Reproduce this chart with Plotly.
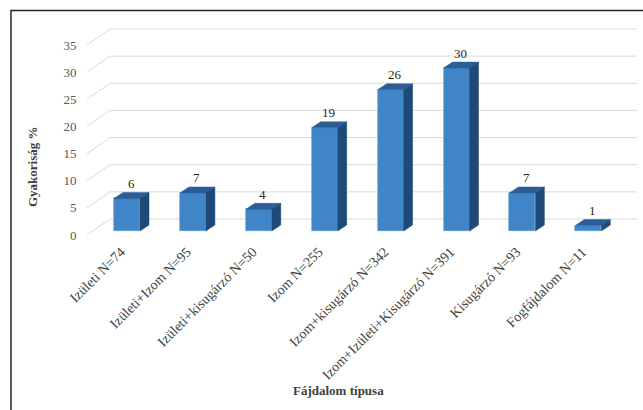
import plotly.graph_objects as go

# Pain type categories and frequency (%)
categories = [
    "Izületi N=74",
    "Izületi+Izom N=95",
    "Izületi+kisugárzó N=50",
    "Izom N=255",
    "Izom+kisugárzó N=342",
    "Izom+Izületi+Kisugárzó N=391",
    "Kisugárzó N=93",
    "Fogfájdalom N=11",
]
values = [6, 7, 4, 19, 26, 30, 7, 1]
y_ticks = [0, 5, 10, 15, 20, 25, 30, 35]

# Plot area in pixels and scale factors used for the oblique 3D look
W, H = 643, 410
L, R, T, B = 87, 640, 20, 240
PX_CAT = 65.9      # pixels per category
PX_VAL = 5.43      # pixels per percentage point
CAT0_PX = 127      # pixel x of first bar centre
ZERO_PX = 231      # pixel y of the value 0 on the bar front plane


def ux(px):
    return px / PX_CAT


def uy(px):
    return px / PX_VAL


x_range = [(L - CAT0_PX) / PX_CAT, (R - CAT0_PX) / PX_CAT]
y_range = [(ZERO_PX - B) / PX_VAL, (ZERO_PX - T) / PX_VAL]

# depth offsets (front floor edge, back wall, bar depth)
FRONT = (ux(-6), -uy(4))
BACK = (ux(17), uy(12))
BAR_D = (ux(9), uy(6))
bar_w = ux(26)

idx = list(range(len(categories)))
fig = go.Figure()

# back wall gridlines and the floor-to-wall diagonals, kept behind the bars
grid_style = dict(color="#d9d9d9", width=1)
wall_left = x_range[0] + ux(23)
wall_right = (637 - CAT0_PX) / PX_CAT
for v in y_ticks:
    fig.add_shape(type="line", layer="below", line=grid_style,
                  x0=wall_left, x1=wall_right,
                  y0=v + BACK[1], y1=v + BACK[1])
    fig.add_shape(type="line", layer="below", line=grid_style,
                  x0=x_range[0], x1=wall_left,
                  y0=v + FRONT[1], y1=v + BACK[1])

# front faces of the bars
fig.add_trace(go.Bar(
    x=idx, y=values, width=bar_w,
    marker=dict(color="#4185c9", line=dict(color="#5b9bd5", width=0.6)),
    hoverinfo="skip", showlegend=False,
))

# top and side faces
for i, v in zip(idx, values):
    xl, xr = i - bar_w / 2, i + bar_w / 2
    fig.add_trace(go.Scatter(
        x=[xl, xr, xr + BAR_D[0], xl + BAR_D[0], xl],
        y=[v, v, v + BAR_D[1], v + BAR_D[1], v],
        fill="toself", fillcolor="#2b5e97", mode="lines",
        line=dict(color="#2b5e97", width=0.5),
        hoverinfo="skip", showlegend=False,
    ))
    fig.add_trace(go.Scatter(
        x=[xr, xr, xr + BAR_D[0], xr + BAR_D[0], xr],
        y=[0, v, v + BAR_D[1], BAR_D[1], 0],
        fill="toself", fillcolor="#1f4a77", mode="lines",
        line=dict(color="#1f4a77", width=0.5),
        hoverinfo="skip", showlegend=False,
    ))

# invisible anchor so the front value axis is drawn
fig.add_trace(go.Scatter(x=[0], y=[0], yaxis="y2", mode="markers",
                         marker=dict(opacity=0), hoverinfo="skip",
                         showlegend=False))

serif = "Liberation Serif"

# value labels above the bars
for i, v in zip(idx, values):
    fig.add_annotation(
        x=i + ux(4), y=v + uy(15), text=str(v), showarrow=False,
        yanchor="middle", xanchor="center",
        font=dict(family=serif, size=13, color="#262626"),
    )

# axis titles
fig.add_annotation(
    xref="paper", yref="paper",
    x=(338 - L) / (R - L), y=(B - 390.5) / (B - T),
    xanchor="center", yanchor="middle",
    text="<b>Fájdalom típusa</b>", showarrow=False,
    font=dict(family=serif, size=13, color="#404040"),
)
fig.add_annotation(
    xref="paper", yref="paper",
    x=(32 - L) / (R - L), y=(B - 167) / (B - T),
    xanchor="center", yanchor="middle",
    text="<b>Gyakoriság %</b>", showarrow=False, textangle=-90,
    font=dict(family=serif, size=13, color="#404040"),
)

# chart frame
fig.add_shape(
    type="path", xref="paper", yref="paper",
    path="M {x0},{y1} L {x0},{y0} L {x1},{y0}".format(
        x0=(11 - L) / (R - L), y0=(B - 10.5) / (B - T),
        x1=(W + 5 - L) / (R - L), y1=(B - H - 5) / (B - T)),
    line=dict(color="#262626", width=1.5),
)

fig.update_layout(
    width=W, height=H,
    margin=dict(l=L, r=W - R, t=T, b=H - B),
    paper_bgcolor="white", plot_bgcolor="rgba(0,0,0,0)",
    xaxis=dict(
        range=x_range, showgrid=False, zeroline=False, showline=False,
        tickvals=[i + FRONT[0] for i in idx], ticktext=categories,
        tickangle=-45, ticks="",
        tickfont=dict(family=serif, size=14, color="#404040"),
    ),
    yaxis=dict(
        range=y_range, showgrid=False, zeroline=False, showline=False,
        showticklabels=False, ticks="",
    ),
    yaxis2=dict(
        overlaying="y", side="left",
        range=[y_range[0] - FRONT[1], y_range[1] - FRONT[1]],
        tickvals=y_ticks, showgrid=False, zeroline=False, showline=False,
        ticks="outside", ticklen=7, tickcolor="rgba(0,0,0,0)",
        tickfont=dict(family=serif, size=13, color="#595959"),
    ),
    bargap=0,
)

fig.write_html("out.html")
